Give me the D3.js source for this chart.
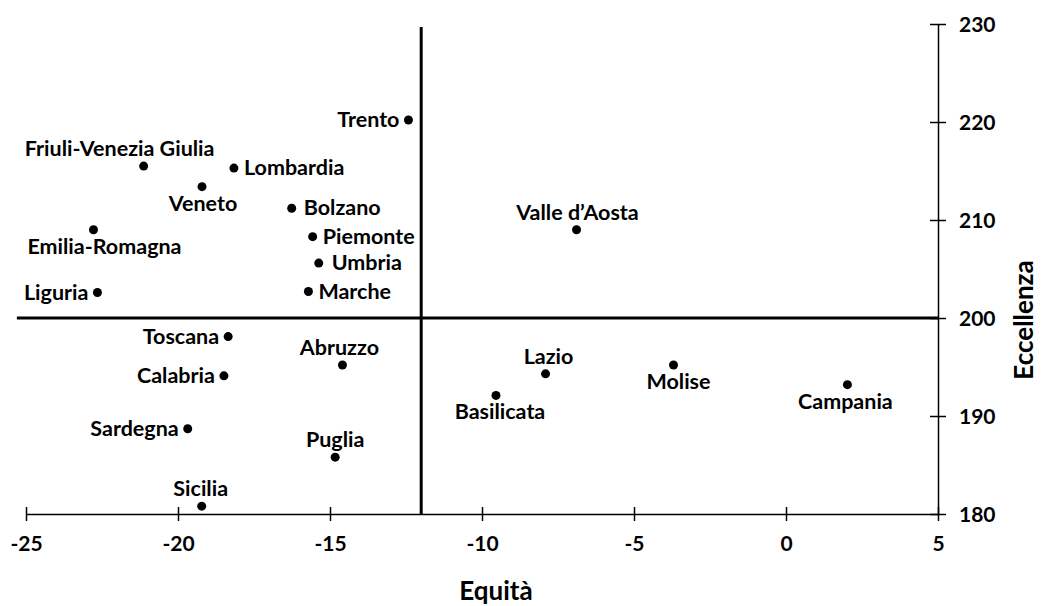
<!DOCTYPE html>
<html>
<head>
<meta charset="utf-8">
<script src="https://cdn.jsdelivr.net/npm/d3@7"></script>
<style>
  body { margin: 0; background: #fff; }
  text { font-family: Lato, "Open Sans", sans-serif; font-weight: bold; fill: #000; }
</style>
</head>
<body>
<div id="chart"></div>
<script>
/* Equità vs Eccellenza scatter, regioni italiane */

const regions = ["Trento", "Friuli-Venezia Giulia", "Lombardia", "Veneto", "Bolzano",
    "Emilia-Romagna", "Valle d’Aosta", "Piemonte", "Umbria", "Liguria", "Marche",
    "Toscana", "Calabria", "Abruzzo", "Lazio", "Basilicata", "Molise", "Campania",
    "Sardegna", "Puglia", "Sicilia"];
const equita = [-12.42, -21.13, -18.16, -19.21, -16.26, -22.78, -6.89, -15.57, -15.37, -22.65,
    -15.71, -18.35, -18.49, -14.59, -7.91, -9.54, -3.70, 2.02, -19.68, -14.83, -19.22];
const eccellenza = [220.2, 215.5, 215.3, 213.4, 211.2, 209.0, 209.0, 208.3, 205.6, 202.6,
    202.7, 198.1, 194.1, 195.2, 194.3, 192.1, 195.2, 193.2, 188.7, 185.8, 180.8];
const xTicks = [-25, -20, -15, -10, -5, 0, 5];
const yTicks = [180, 190, 200, 210, 220, 230];
const xMid = -12, yMid = 200; // quadrant lines

// where each label sits relative to its dot
const labelSide = {
    "Trento": ["left", 0], "Friuli-Venezia Giulia": ["above", -24], "Lombardia": ["right", 0],
    "Veneto": ["below", 1], "Bolzano": ["right", 2], "Emilia-Romagna": ["below", 11],
    "Valle d’Aosta": ["above", 1], "Piemonte": ["right", 0], "Umbria": ["right", 3],
    "Liguria": ["left", 0], "Marche": ["right", 0], "Toscana": ["left", 0],
    "Calabria": ["left", 0], "Abruzzo": ["above", -3], "Lazio": ["above", 3],
    "Basilicata": ["below", 4], "Molise": ["below", 5], "Campania": ["below", -2],
    "Sardegna": ["left", 0], "Puglia": ["above", 0], "Sicilia": ["above", -1]
};

const data = regions.map((r, i) => ({ name: r, x: equita[i], y: eccellenza[i] }));

const width = 1042,
      height = 606;

let svg = d3.select("#chart")
    .append("svg")
    .attr("width", width)
    .attr("height", height);

let x = d3.scaleLinear()
    .domain([-25, 5])
    .range([26, 938]);

let y = d3.scaleLinear()
    .domain([180, 230])
    .range([514, 24]);

// x axis, ticks cross the line
let xAxis = svg.append("g")
    .attr("transform", `translate(0,${y(180)})`)
    .call(d3.axisBottom(x).tickValues(xTicks).tickFormat(d => String(d))
        .tickSizeInner(7).tickSizeOuter(0).tickPadding(15));
xAxis.selectAll(".tick line").attr("y1", -7);

let yAxis = svg.append("g")
    .attr("transform", `translate(${x(5)},0)`)
    .call(d3.axisRight(y).tickValues(yTicks).tickSizeInner(8).tickSizeOuter(0).tickPadding(13));
yAxis.selectAll(".tick line").attr("x1", -8);

svg.selectAll(".domain, .tick line").attr("stroke", "#000").attr("stroke-width", 1.5);
svg.selectAll(".tick text").style("font-size", "21px").attr("fill", "#000");
yAxis.selectAll(".tick text").attr("dy", "0.36em");

// quadrant lines
svg.append("line")
    .attr("x1", x(-25.3)).attr("x2", x(5))
    .attr("y1", y(yMid)).attr("y2", y(yMid))
    .attr("stroke", "#000").attr("stroke-width", 3);

svg.append("line")
    .attr("x1", x(xMid)).attr("x2", x(xMid))
    .attr("y1", y(230) + 3).attr("y2", y(180))
    .attr("stroke", "#000").attr("stroke-width", 3);

// points
let pt = svg.selectAll(".pt")
    .data(data)
    .join("g")
    .attr("class", "pt");

pt.append("circle")
    .attr("cx", d => x(d.x))
    .attr("cy", d => y(d.y))
    .attr("r", 4.5)
    .attr("fill", "#000");

pt.append("text")
    .text(d => d.name)
    .style("font-size", "21.5px")
    .attr("text-anchor", d => {
        let s = labelSide[d.name][0];
        return s == "left" ? "end" : s == "right" ? "start" : "middle";
    })
    .attr("x", d => {
        let [s, dx] = labelSide[d.name];
        if (s == "left") return x(d.x) - 9;
        if (s == "right") return x(d.x) + 10 + dx;
        return x(d.x) + dx;
    })
    .attr("y", d => {
        let s = labelSide[d.name][0];
        if (s == "above") return y(d.y) - 10;
        if (s == "below") return y(d.y) + 24;
        return y(d.y) + 7;
    });

// axis titles
svg.append("text")
    .text("Equità")
    .attr("x", 496)
    .attr("y", 600)
    .attr("text-anchor", "middle")
    .style("font-size", "26px");

svg.append("text")
    .text("Eccellenza")
    .attr("transform", "translate(1033,320) rotate(-90)")
    .attr("text-anchor", "middle")
    .style("font-size", "26px");
</script>
</body>
</html>
